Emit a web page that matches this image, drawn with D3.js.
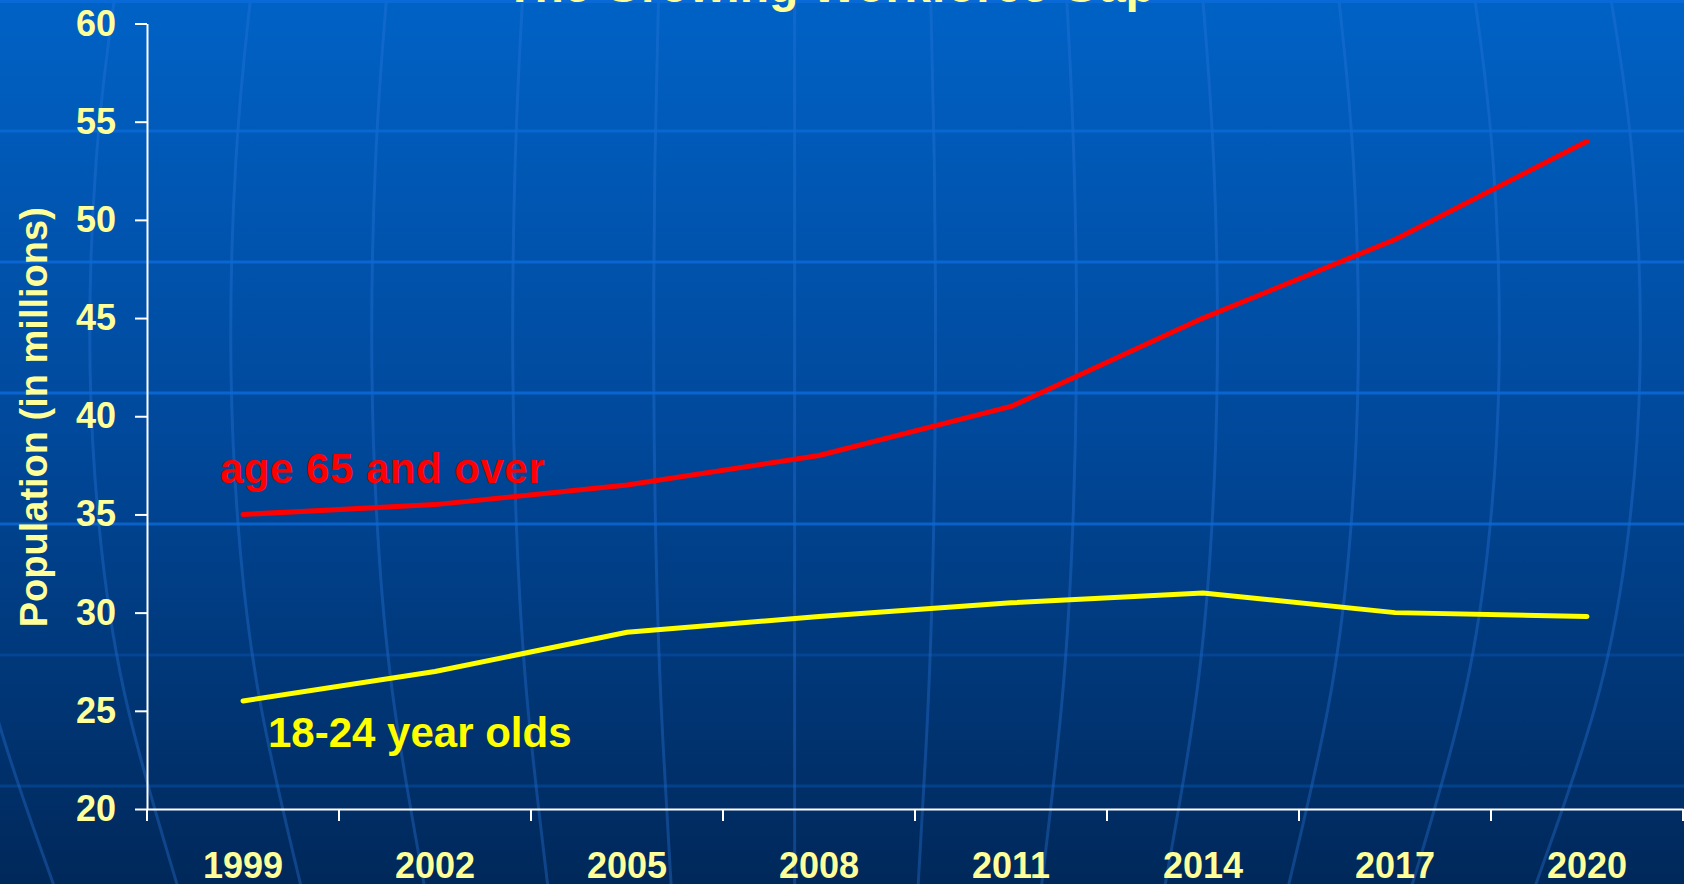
<!DOCTYPE html>
<html>
<head>
<meta charset="utf-8">
<script src="https://cdn.jsdelivr.net/npm/d3@7"></script>
<style>
  html, body { margin: 0; padding: 0; background: #003a7a; }
  svg { display: block; }
  text { font-family: "Liberation Sans", Arial, sans-serif; font-weight: bold; }
</style>
</head>
<body>
<div id="chart"></div>
<script>
// chart data
const years = ['1999', '2002', '2005', '2008', '2011', '2014', '2017', '2020'];
const age65Over = [35, 35.5, 36.5, 38, 40.5, 45, 49, 54];
const age18to24 = [25.5, 27, 29, 29.8, 30.5, 31, 30, 29.8];
const yTicks = [20, 25, 30, 35, 40, 45, 50, 55, 60];

const width = 1684;
const height = 884;
const margin = { top: 23.5, right: 1, bottom: 75, left: 147 };

const svg = d3.select('#chart')
  .append('svg')
    .attr('width', width)
    .attr('height', height);

// background: blue gradient with faint globe grid
const defs = svg.append('defs');
const grad = defs.append('linearGradient')
  .attr('id', 'bg')
  .attr('x1', 0).attr('y1', 0).attr('x2', 0).attr('y2', 1);
grad.append('stop').attr('offset', '0%').attr('stop-color', '#0062c6');
grad.append('stop').attr('offset', '50%').attr('stop-color', '#00489a');
grad.append('stop').attr('offset', '100%').attr('stop-color', '#00285a');

svg.append('rect')
  .attr('width', width)
  .attr('height', height)
  .attr('fill', 'url(#bg)');

const bgGroup = svg.append('g').attr('class', 'globe');

// meridians
const centerX = 795;
const profile = [[-5, 0.96], [150, 0.99], [380, 1], [560, 0.98], [700, 0.95], [890, 0.87]];
const meridians = d3.range(-55, 1700, 141.6);
const meridianLine = d3.line().curve(d3.curveBasis);
meridians.forEach(m => {
  const pts = profile.map(p => [centerX + (m - centerX) * p[1], p[0]]);
  bgGroup.append('path')
    .attr('d', meridianLine(pts))
    .attr('fill', 'none')
    .attr('stroke', '#2a78dc')
    .attr('stroke-opacity', 0.35)
    .attr('stroke-width', 3);
});

// latitude lines
const latitudes = [[1.5, 0.9], [131, 0.85], [262, 0.85], [393, 0.85], [524, 0.8], [655, 0.25], [786, 0.3]];
latitudes.forEach(l => {
  bgGroup.append('line')
    .attr('x1', 0).attr('x2', width)
    .attr('y1', l[0]).attr('y2', l[0])
    .attr('stroke', '#0a6ad8')
    .attr('stroke-opacity', l[1])
    .attr('stroke-width', 3);
});

// title (cut off at the top, as in the slide)
svg.append('text')
  .attr('x', 830)
  .attr('y', 2)
  .attr('text-anchor', 'middle')
  .attr('fill', '#ffff99')
  .style('font-size', '48px')
  .text('The Growing Workforce Gap');

// scales
const x = d3.scaleBand()
  .domain(years)
  .range([margin.left, width - margin.right]);

const y = d3.scaleLinear()
  .domain([20, 60])
  .range([height - margin.bottom, margin.top]);

const xc = d => x(d) + x.bandwidth() / 2;

// y axis
const yAxis = svg.append('g')
  .attr('transform', 'translate(' + margin.left + ',0)')
  .call(d3.axisLeft(y)
    .tickValues(yTicks)
    .tickSize(12)
    .tickSizeOuter(0)
    .tickPadding(19));

yAxis.selectAll('path, line')
  .attr('stroke', '#ffffff')
  .attr('stroke-width', 2);
yAxis.selectAll('text')
  .attr('fill', '#ffff99')
  .style('font-size', '36px')
  .style('font-family', '"Liberation Sans", Arial, sans-serif')
  .style('font-weight', 'bold');

// x axis: labels centred in bands, ticks at band edges
const xAxis = svg.append('g')
  .attr('transform', 'translate(0,' + y(20) + ')')
  .call(d3.axisBottom(x)
    .tickSize(0)
    .tickSizeOuter(0)
    .tickPadding(43));

xAxis.select('.domain')
  .attr('stroke', '#ffffff')
  .attr('stroke-width', 2);
xAxis.selectAll('text')
  .attr('fill', '#ffff99')
  .style('font-size', '36px')
  .style('font-family', '"Liberation Sans", Arial, sans-serif')
  .style('font-weight', 'bold');

const edges = years.map(d => x(d)).concat([x.range()[1]]);
xAxis.selectAll('line.edge')
  .data(edges)
  .enter()
  .append('line')
    .attr('class', 'edge')
    .attr('x1', d => d).attr('x2', d => d)
    .attr('y1', 0).attr('y2', 12)
    .attr('stroke', '#ffffff')
    .attr('stroke-width', 2);

// y axis title
svg.append('text')
  .attr('transform', 'translate(47,' + ((y(20) + y(60)) / 2 + 1) + ') rotate(-90)')
  .attr('text-anchor', 'middle')
  .attr('fill', '#ffff99')
  .style('font-size', '38px')
  .text('Population (in millions)');

// series lines
const series = [
  { name: 'age 65 and over', values: age65Over, color: '#ff0000', labelDx: -23, labelValue: 36.6, size: 42, spacing: 0.5 },
  { name: '18-24 year olds', values: age18to24, color: '#ffff00', labelDx: 25, labelValue: 23.15, size: 42, spacing: 0 }
];

const line = d3.line()
  .x((d, i) => xc(years[i]))
  .y(d => y(d));

series.forEach(s => {
  svg.append('path')
    .datum(s.values)
    .attr('fill', 'none')
    .attr('stroke', s.color)
    .attr('stroke-width', 5)
    .attr('stroke-linecap', 'round')
    .attr('stroke-linejoin', 'round')
    .attr('d', line);

  svg.append('text')
    .attr('x', xc(years[0]) + s.labelDx)
    .attr('y', y(s.labelValue))
    .attr('fill', s.color)
    .style('font-size', s.size + 'px')
    .style('letter-spacing', s.spacing + 'px')
    .text(s.name);
});
</script>
</body>
</html>
